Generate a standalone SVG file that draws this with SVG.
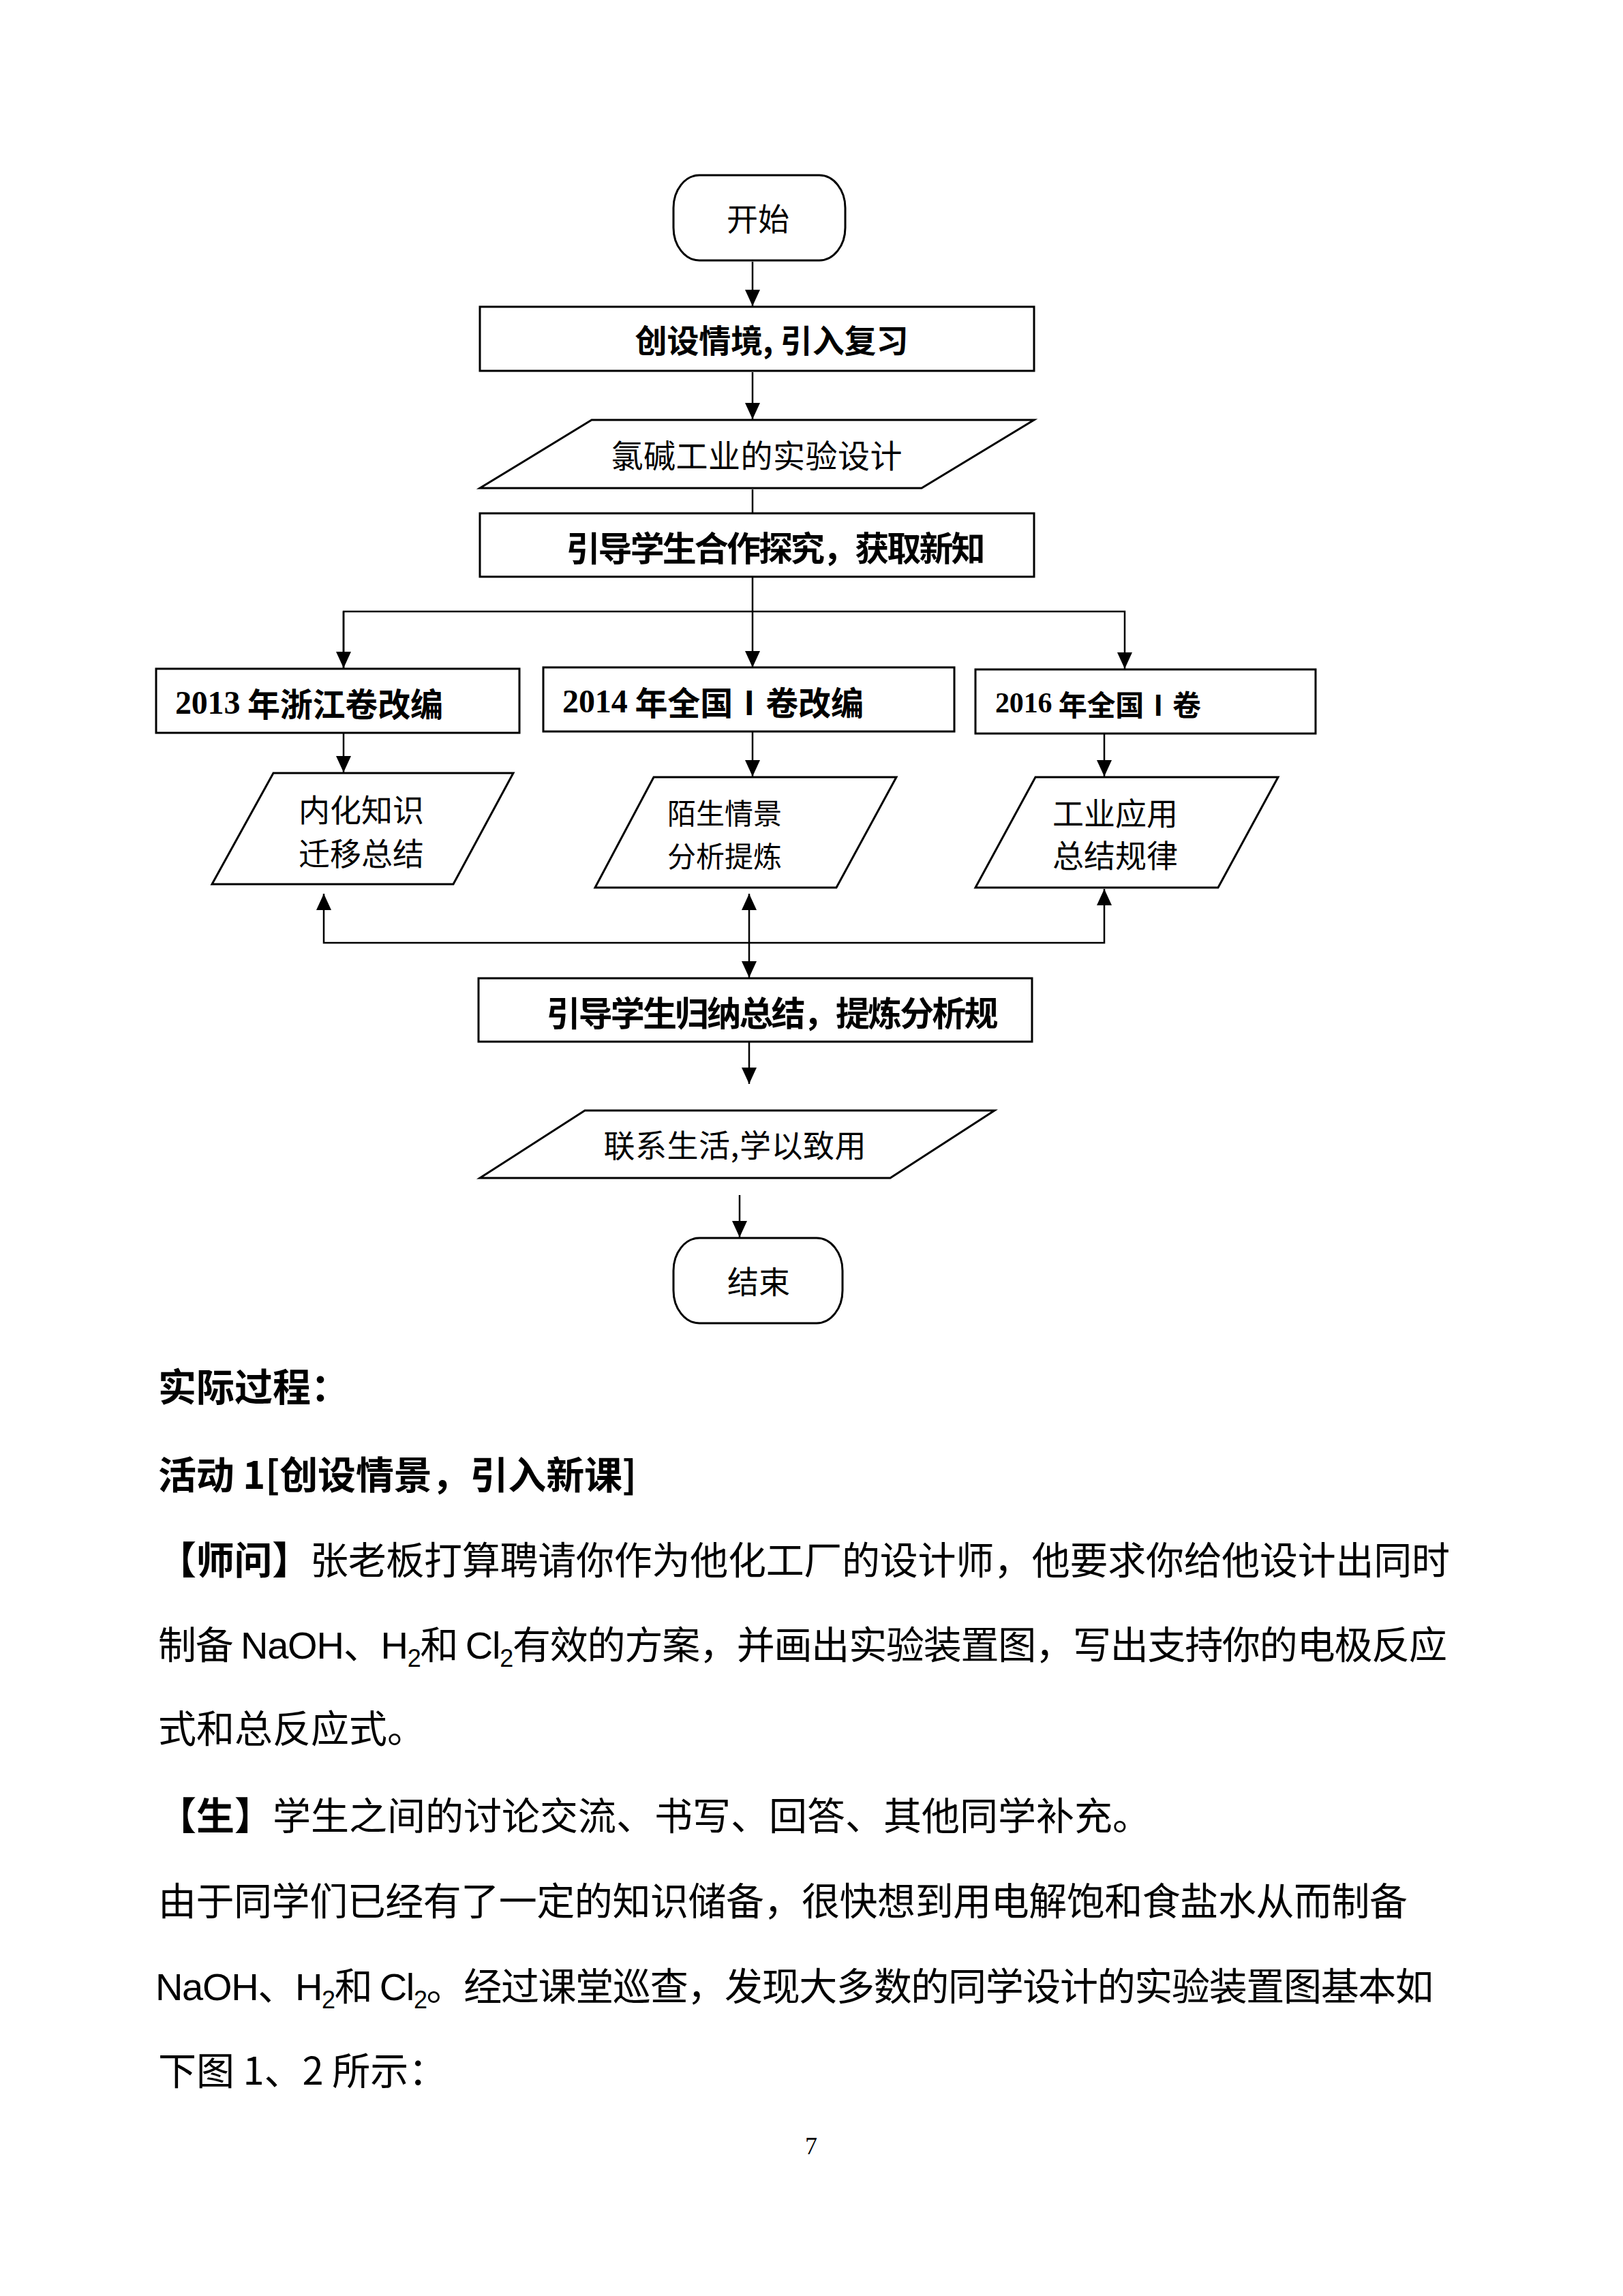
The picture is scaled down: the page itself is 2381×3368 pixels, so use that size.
<svg xmlns="http://www.w3.org/2000/svg" width="2381" height="3368" viewBox="0 0 2381 3368">
<style>
.shape{fill:#fff;stroke:#000;stroke-width:3}
.ln{fill:none;stroke:#000;stroke-width:2.5}
.cjk{font-family:"Noto Sans CJK SC","Noto Sans",sans-serif;fill:#000}
.b{font-weight:bold}
.c{text-anchor:middle;dominant-baseline:central}
.l{dominant-baseline:central}
.num{font-family:"Liberation Serif",serif;font-weight:bold}
.lat{font-family:"Liberation Sans",sans-serif}
.body{font-family:"Noto Sans CJK SC","Noto Sans",sans-serif;font-size:56px;fill:#000}
</style>
<defs>
<marker id="ah" markerUnits="userSpaceOnUse" markerWidth="24" markerHeight="22" refX="24" refY="11" orient="auto">
<path d="M0,0 L24,11 L0,22 Z" fill="#000"/>
</marker>
<marker id="ahs" markerUnits="userSpaceOnUse" markerWidth="24" markerHeight="22" refX="0" refY="11" orient="auto">
<path d="M24,0 L0,11 L24,22 Z" fill="#000"/>
</marker>
</defs>
<rect width="2381" height="3368" fill="#fff"/>

<g id="connectors">
<line class="ln" x1="1104" y1="384" x2="1104" y2="449" marker-end="url(#ah)"/>
<line class="ln" x1="1104" y1="546" x2="1104" y2="615" marker-end="url(#ah)"/>
<line class="ln" x1="1104" y1="718" x2="1104" y2="753"/>
<line class="ln" x1="1104" y1="846" x2="1104" y2="979" marker-end="url(#ah)"/>
<polyline class="ln" points="504,980 504,897 1650,897 1650,981" marker-end="url(#ah)"/>
<line class="ln" x1="504" y1="897" x2="504" y2="980" marker-end="url(#ah)"/>
<line class="ln" x1="504" y1="1075" x2="504" y2="1133" marker-end="url(#ah)"/>
<line class="ln" x1="1104" y1="1073" x2="1104" y2="1139" marker-end="url(#ah)"/>
<line class="ln" x1="1620" y1="1077" x2="1620" y2="1139" marker-end="url(#ah)"/>
<polyline class="ln" points="475,1311 475,1383 1620,1383 1620,1304" marker-start="url(#ahs)" marker-end="url(#ah)"/>
<line class="ln" x1="1099" y1="1311" x2="1099" y2="1434" marker-start="url(#ahs)" marker-end="url(#ah)"/>
<line class="ln" x1="1099" y1="1528" x2="1099" y2="1590" marker-end="url(#ah)"/>
<line class="ln" x1="1085" y1="1753" x2="1085" y2="1815" marker-end="url(#ah)"/>
</g>

<g id="start">
<rect class="shape" x="988" y="257" width="252" height="125" rx="38" ry="48"/>
<text class="cjk c" x="1112" y="318" font-size="46">开始</text>
</g>

<g id="box1">
<rect class="shape" x="704" y="450" width="813" height="94"/>
<text class="cjk b c" x="1132" y="496" font-size="47" textLength="401" lengthAdjust="spacing">创设情境, 引入复习</text>
</g>

<g id="para1">
<polygon class="shape" points="868,616 1517,616 1352,716 704,716"/>
<text class="cjk c" x="1110" y="665" font-size="47" textLength="427" lengthAdjust="spacing">氯碱工业的实验设计</text>
</g>

<g id="box2">
<rect class="shape" x="704" y="753" width="813" height="93"/>
<text class="cjk b c" x="1138" y="801" font-size="50" textLength="615" lengthAdjust="spacing">引导学生合作探究，获取新知</text>
</g>

<g id="boxA">
<rect class="shape" x="229" y="981" width="533" height="94"/>
<text class="cjk b l" x="257" y="1030" font-size="48" textLength="393" lengthAdjust="spacing"><tspan class="num">2013</tspan> 年浙江卷改编</text>
</g>

<g id="boxB">
<rect class="shape" x="797" y="979" width="603" height="94"/>
<text class="cjk b l" x="825" y="1028" font-size="48" textLength="442" lengthAdjust="spacing"><tspan class="num">2014</tspan> 年全国Ⅰ卷改编</text>
</g>

<g id="boxC">
<rect class="shape" x="1431" y="982" width="499" height="94"/>
<text class="cjk b l" x="1460" y="1031" font-size="42" textLength="302" lengthAdjust="spacing"><tspan class="num">2016</tspan> 年全国Ⅰ卷</text>
</g>

<g id="paraA">
<polygon class="shape" points="401,1134 753,1134 665,1297 311,1297"/>
<text class="cjk c" x="530" y="1185" font-size="46">内化知识</text>
<text class="cjk c" x="530" y="1249" font-size="46">迁移总结</text>
</g>

<g id="paraB">
<polygon class="shape" points="959,1140 1315,1140 1227,1302 873,1302"/>
<text class="cjk c" x="1063" y="1190" font-size="42">陌生情景</text>
<text class="cjk c" x="1063" y="1253" font-size="42">分析提炼</text>
</g>

<g id="paraC">
<polygon class="shape" points="1519,1140 1875,1140 1787,1302 1431,1302"/>
<text class="cjk c" x="1636" y="1190" font-size="46">工业应用</text>
<text class="cjk c" x="1636" y="1252" font-size="46">总结规律</text>
</g>

<g id="box3">
<rect class="shape" x="702" y="1435" width="812" height="93"/>
<text class="cjk b c" x="1133" y="1483" font-size="50" textLength="663" lengthAdjust="spacing">引导学生归纳总结，提炼分析规</text>
</g>

<g id="para4">
<polygon class="shape" points="858,1629 1459,1629 1306,1728 704,1728"/>
<text class="cjk c" x="1078" y="1677" font-size="46" textLength="385" lengthAdjust="spacing">联系生活,学以致用</text>
</g>

<g id="end">
<rect class="shape" x="988" y="1816" width="248" height="125" rx="38" ry="48"/>
<text class="cjk c" x="1113" y="1877" font-size="46">结束</text>
</g>

<g id="body">
<text class="body b" x="232" y="2055">实际过程：</text>
<text class="body b" x="232" y="2184" textLength="702" lengthAdjust="spacing">活动 1[创设情景，引入新课]</text>
<text class="body" x="232" y="2309" textLength="1895" lengthAdjust="spacing"><tspan font-weight="bold">【师问】</tspan>张老板打算聘请你作为他化工厂的设计师，他要求你给他设计出同时</text>
<text class="body" x="232" y="2433" textLength="1891" lengthAdjust="spacing">制备 <tspan class="lat">NaOH</tspan>、<tspan class="lat">H</tspan><tspan class="lat" font-size="36" dy="12">2</tspan><tspan dy="-12">和 </tspan><tspan class="lat">Cl</tspan><tspan class="lat" font-size="36" dy="12">2</tspan><tspan dy="-12">有效的方案，并画出实验装置图，写出支持你的电极反应</tspan></text>
<text class="body" x="232" y="2556">式和总反应式。</text>
<text class="body" x="232" y="2684"><tspan font-weight="bold">【生】</tspan>学生之间的讨论交流、书写、回答、其他同学补充。</text>
<text class="body" x="232" y="2809" textLength="1833" lengthAdjust="spacing">由于同学们已经有了一定的知识储备，很快想到用电解饱和食盐水从而制备</text>
<text class="body" x="228" y="2934" textLength="1875" lengthAdjust="spacing"><tspan class="lat">NaOH</tspan>、<tspan class="lat">H</tspan><tspan class="lat" font-size="36" dy="12">2</tspan><tspan dy="-12">和 </tspan><tspan class="lat">Cl</tspan><tspan class="lat" font-size="36" dy="12">2</tspan><tspan dy="-12">。经过课堂巡查，发现大多数的同学设计的实验装置图基本如</tspan></text>
<text class="body" x="232" y="3058">下图 1、2 所示：</text>
<text x="1190" y="3160" font-family="Liberation Serif, serif" font-size="36" text-anchor="middle" fill="#000">7</text>
</g>
</svg>
